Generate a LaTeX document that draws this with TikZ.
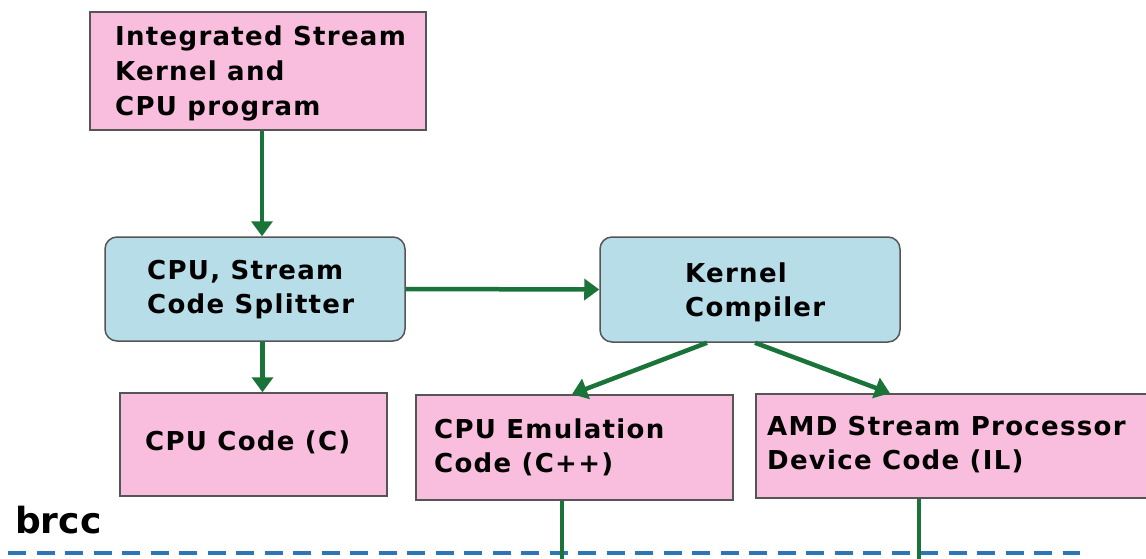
\documentclass[tikz,border=0pt]{standalone}
\usepackage{fontspec}
\usetikzlibrary{arrows.meta}
\newfontfamily\boxfont{DejaVu Sans}[LetterSpace=5]
\newfontfamily\tagfont{DejaVu Sans}

\definecolor{boxpink}{RGB}{249,190,222}
\definecolor{boxblue}{RGB}{183,222,232}
\definecolor{edgegray}{RGB}{85,85,85}
\definecolor{flowgreen}{RGB}{26,115,56}
\definecolor{sepblue}{RGB}{46,117,182}

\tikzset{
  pinkbox/.style={draw=edgegray, line width=1.5pt, fill=boxpink, inner sep=0pt},
  bluebox/.style={draw=edgegray, line width=1.5pt, fill=boxblue, rounded corners=12pt, inner sep=0pt},
  % anchor "base west" of a multi-line node sits on the last line's baseline
  boxtext/.style={inner sep=0pt, align=left, anchor=base west,
    font=\boxfont\bfseries\fontsize{26}{34}\selectfont},
  flow/.style={draw=flowgreen, line width=4.5pt, -{Triangle[length=15pt,width=21pt]}},
  feed/.style={draw=flowgreen, line width=4.5pt},
  separator/.style={draw=sepblue, line width=3.5pt, dash pattern=on 18pt off 10.5pt}
}

\begin{document}
\begin{tikzpicture}[x=1pt, y=-1pt]
  \useasboundingbox (0,0) rectangle (1146,558);
  \clip (0,0) rectangle (1146,558);

  % boxes
  \node[pinkbox, minimum width=336pt, minimum height=118pt] (src)   at (258,71)     {};
  \node[bluebox, minimum width=300pt, minimum height=104pt] (split) at (255,289)    {};
  \node[bluebox, minimum width=300pt, minimum height=105pt] (kcomp) at (750,289.5)  {};
  \node[pinkbox, minimum width=267pt, minimum height=103pt] (cpuc)  at (253.5,444.5){};
  \node[pinkbox, minimum width=317pt, minimum height=105pt] (emul)  at (574.5,447.5){};
  \node[pinkbox, minimum width=404pt, minimum height=104pt] (amd)   at (958,446)    {};

  % box texts (positions give the baseline of the last line)
  \node[boxtext, font=\boxfont\bfseries\fontsize{26}{35}\selectfont] (srctxt) at (115,115) {Integrated Stream\\Kernel and\\CPU program};
  \node[boxtext] (splittxt) at (147,313) {CPU, Stream\\Code Splitter};
  \node[boxtext] (kcomptxt) at (685,316) {Kernel\\Compiler};
  \node[boxtext] (cpuctxt)  at (145,450) {CPU Code (C)};
  \node[boxtext] (emultxt)  at (434,472) {CPU Emulation\\Code (C++)};
  \node[boxtext] (amdtxt)   at (767,469) {AMD Stream Processor\\Device Code (IL)};

  % tool label
  \node[inner sep=0pt, anchor=base west, font=\tagfont\bfseries\fontsize{36}{40}\selectfont] (brcc) at (15,533) {brcc};

  % separator
  \coordinate (sepL) at (8,553);
  \coordinate (sepR) at (1080,553);
  \draw[separator] (sepL) -- (sepR);

  % flow arrows
  \draw[flow] ([xshift=4pt]src.south) -- ([xshift=4pt]src.south |- split.north);
  \draw[flow] (split.east) -- (kcomp.west);
  \draw[flow] ([xshift=7.5pt]split.south) -- ([xshift=7.5pt]split.south |- cpuc.north);
  \draw[flow] ([xshift=-43pt]kcomp.south) -- ([xshift=-2.5pt]emul.north);
  \draw[flow] ([xshift=5pt]kcomp.south) -- ([xshift=-68pt]amd.north);

  % outputs leaving downwards
  \coordinate (emulout) at (562,562);
  \coordinate (amdout) at (919,562);
  \draw[feed] ([xshift=-12.5pt]emul.south) -- (emulout);
  \draw[feed] ([xshift=-39pt]amd.south) -- (amdout);
\end{tikzpicture}
\end{document}
